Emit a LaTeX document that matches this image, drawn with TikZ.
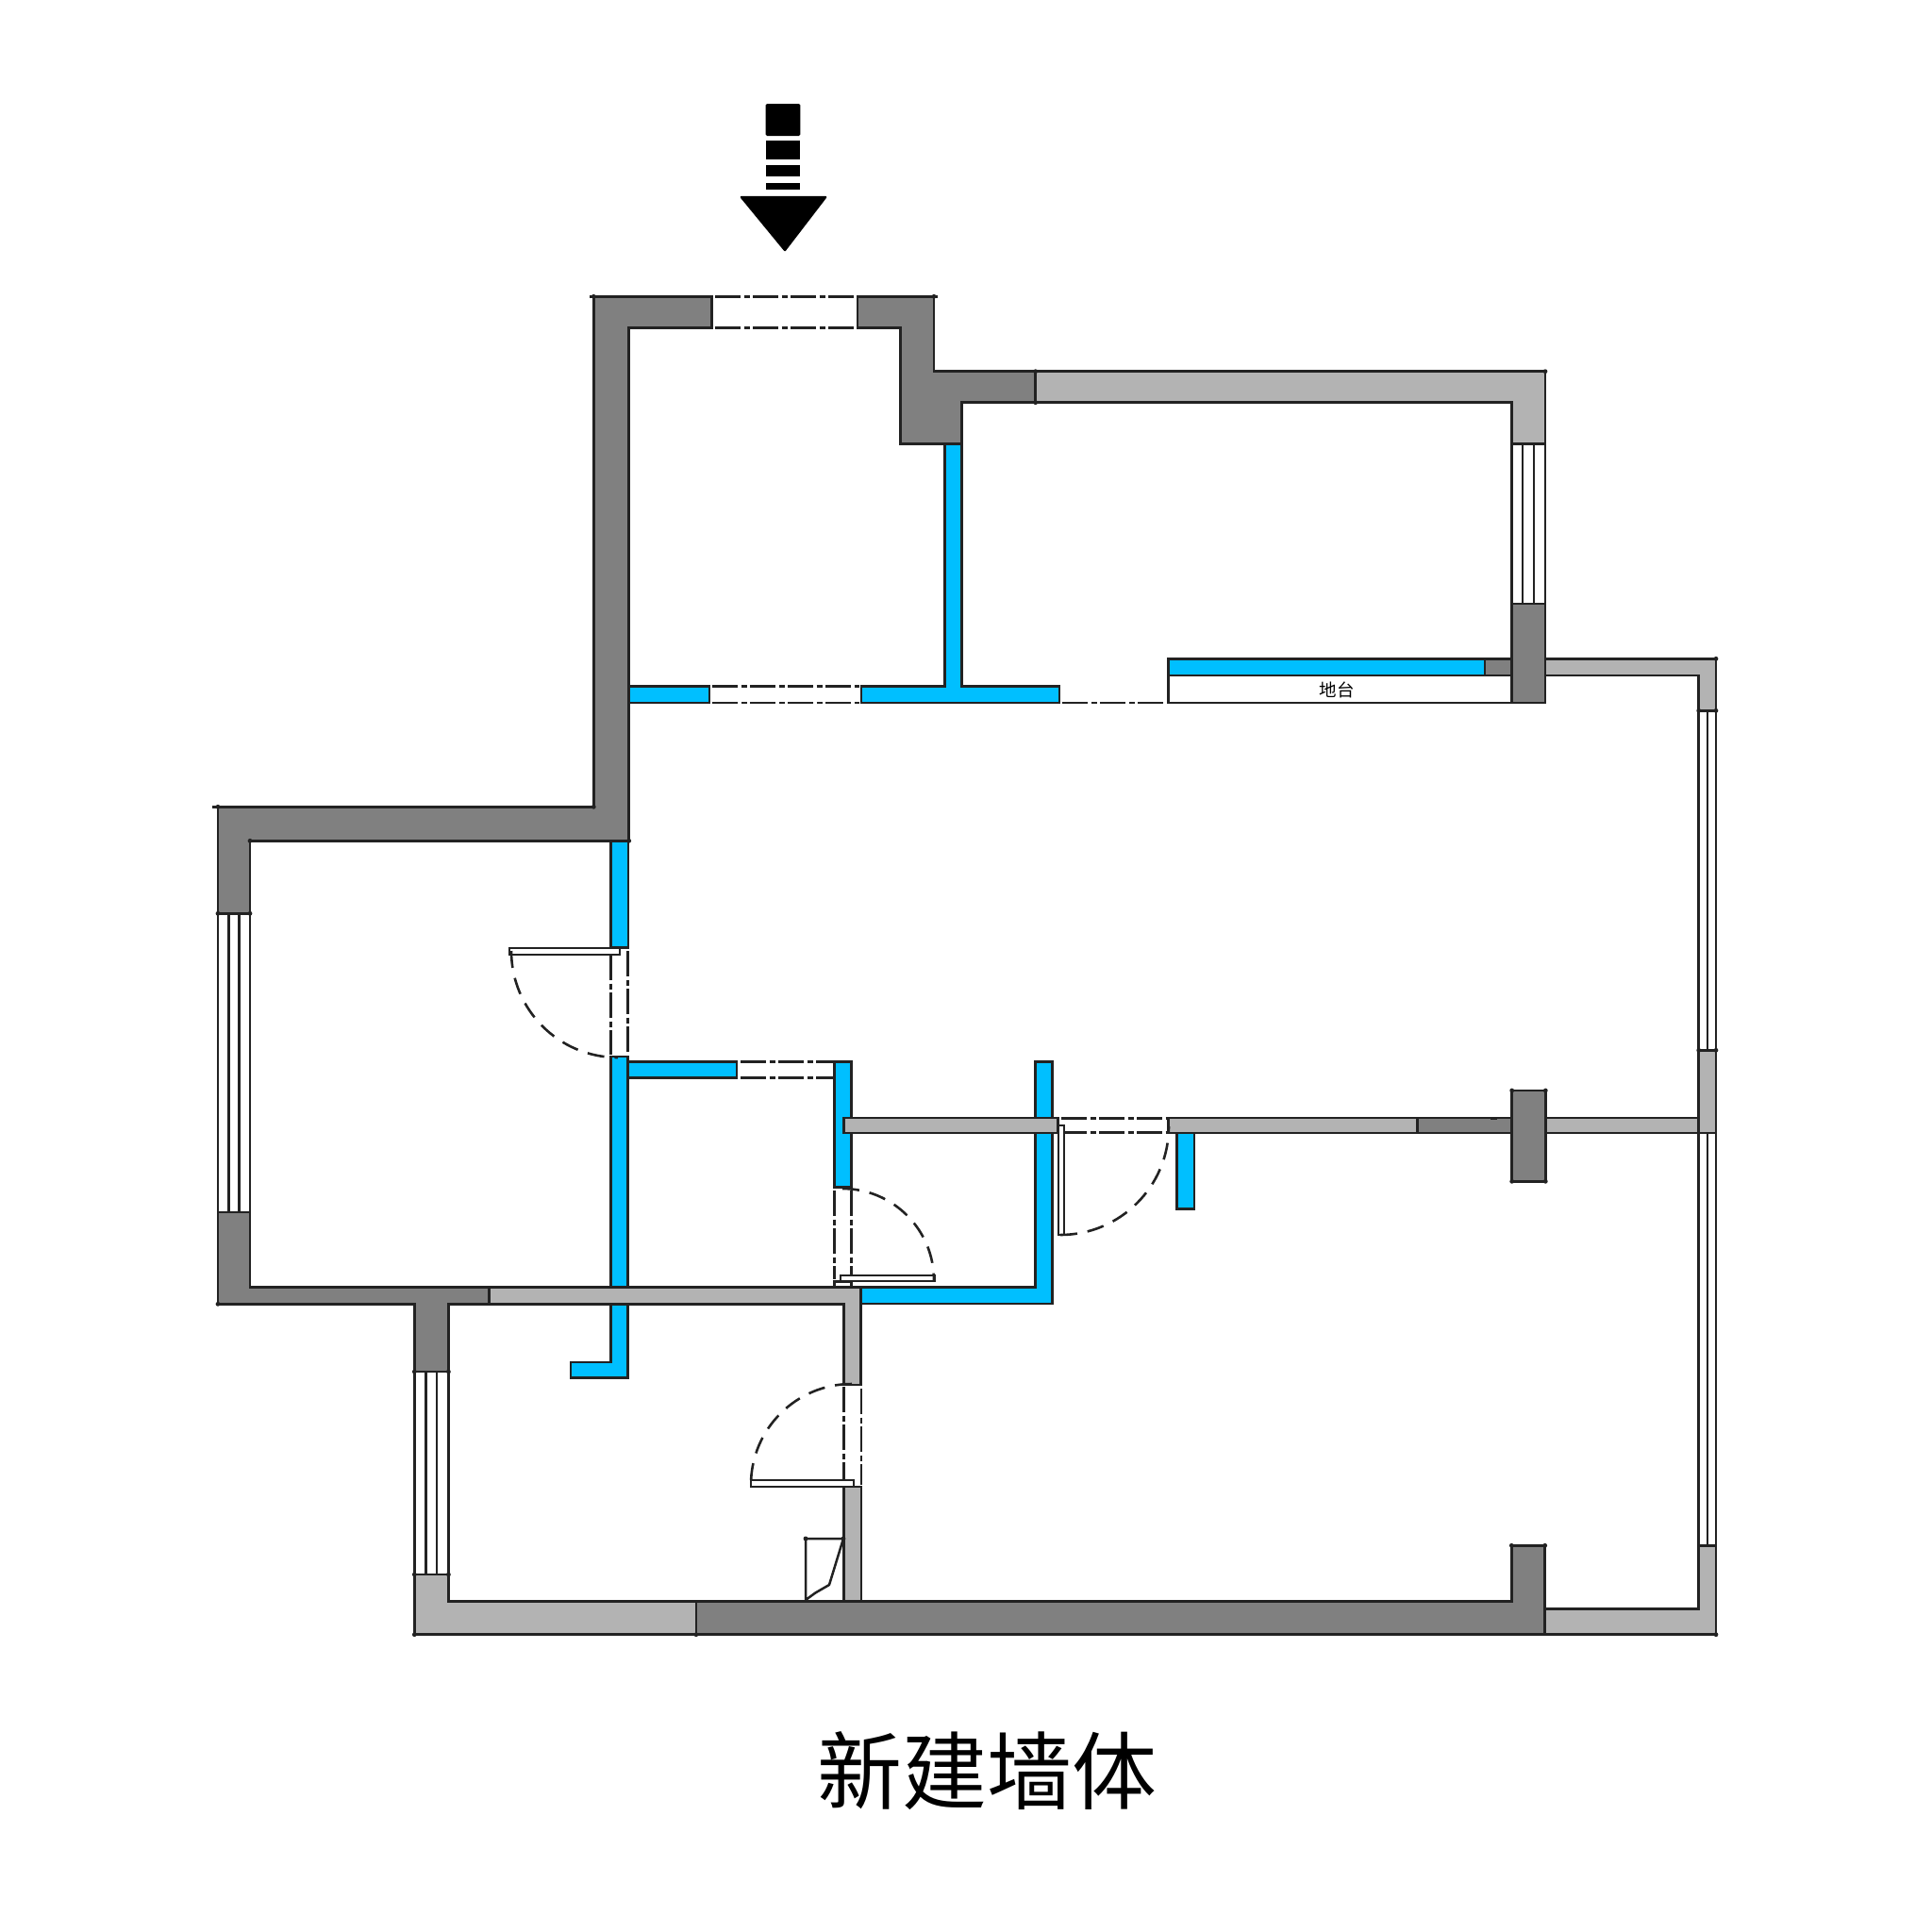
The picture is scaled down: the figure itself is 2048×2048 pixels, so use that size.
\documentclass[tikz,border=0pt]{standalone}
\usepackage{fontspec}
\newfontfamily\cjkfont{Noto Sans CJK SC}
\definecolor{ink}{HTML}{222222}
\definecolor{walldark}{HTML}{808080}
\definecolor{walllight}{HTML}{B3B3B3}
\definecolor{wallblue}{HTML}{00BFFF}
\tikzset{
  outline/.style={draw=ink,line width=2.6pt,line join=miter},
  darkwall/.style={outline,fill=walldark},
  lightwall/.style={outline,fill=walllight},
  bluewall/.style={outline,fill=wallblue},
  leaf/.style={outline,fill=white,line width=2.2pt},
  glass/.style={draw=ink,line width=2.5pt},
  opening/.style={draw=ink,line width=2.6pt,dash pattern=on 27pt off 3.5pt on 6pt off 3.5pt},
  swing/.style={draw=ink,line width=2.6pt,dash pattern=on 18pt off 11pt},
  stem/.style={fill=black,draw=none},
}
\begin{document}
\begin{tikzpicture}[x=1pt,y=-1pt]
\useasboundingbox (0,0) rectangle (2048,2048);
\fill[white] (0,0) rectangle (2048,2048);

% entrance arrow
\fill[stem,rounded corners=1.5pt] (811.7,110) rectangle (848.3,144);
\fill[stem] (811.7,149) rectangle (848.3,169.3);
\fill[stem] (811.7,175) rectangle (848.3,187.3);
\fill[stem] (811.7,194) rectangle (848.3,200.7);
\filldraw[black,line width=2.5pt,line join=round] (786,209) -- (875,209) -- (832,265) -- cycle;

% new walls
\path[bluewall] (913,727.4) -- (1001.7,727.4) -- (1001.7,470.7) -- (1019.3,470.7) -- (1019.3,727.4) -- (1123,727.4) -- (1123,745) -- (913,745) -- cycle;
\path[bluewall] (666.7,727.4) rectangle (752,745);
\path[bluewall] (1238.2,698.3) rectangle (1573.8,716);
\path[bluewall] (647.7,891.3) rectangle (666,1004.3);
\path[bluewall] (665.7,1125.7) rectangle (781,1142.7);
\path[bluewall] (647.7,1120) -- (665.7,1120) -- (665.7,1460.7) -- (605,1460.7) -- (605,1444) -- (647.7,1444) -- cycle;
\path[bluewall] (884.3,1125.7) rectangle (902.7,1258.3);
\path[bluewall] (1097.7,1125.3) -- (1115.7,1125.3) -- (1115.7,1382) -- (912.7,1382) -- (912.7,1364.3) -- (1097.7,1364.3) -- cycle;
\path[bluewall] (1247.3,1201) rectangle (1266,1281.3);

% platform
\draw[outline] (1238.2,716) -- (1238.2,745) -- (1602.4,745);
\node[font=\cjkfont,text=black,inner sep=0pt] (platform) at (1417,731) {\fontsize{18.5pt}{18.5pt}\selectfont 地台};

% existing walls, dark
\path[darkwall] (231,855.3) -- (629.3,855.3) -- (629.3,314.3) -- (754.3,314.3) -- (754.3,347.7) -- (666.7,347.7) -- (666.7,891.3) -- (265,891.3) -- (265,968.3) -- (231,968.3) -- cycle;
\path[darkwall] (909,314.3) -- (990,314.3) -- (990,393.7) -- (1097.7,393.7) -- (1097.7,426.7) -- (1019.3,426.7) -- (1019.3,470.7) -- (954.3,470.7) -- (954.3,347.7) -- (909,347.7) -- cycle;
\path[darkwall] (231,1285) -- (265,1285) -- (265,1364.3) -- (518.3,1364.3) -- (518.3,1382.3) -- (475.4,1382.3) -- (475.4,1454) -- (439.3,1454) -- (439.3,1382.3) -- (231,1382.3) -- cycle;
\path[darkwall] (737.9,1697.3) -- (1602.3,1697.3) -- (1602.3,1638.3) -- (1637.7,1638.3) -- (1637.7,1732.7) -- (737.9,1732.7) -- cycle;
\path[darkwall] (1573.8,698.3) rectangle (1602.4,716);
\path[darkwall] (1602.4,640) rectangle (1638,745);
\path[darkwall] (1502.3,1185) rectangle (1602.7,1201);
\path[darkwall] (1602.7,1156) rectangle (1638.3,1252.3);
\fill[ink] (1580,1183.5) rectangle (1587,1186.5);

% existing walls, light
\path[lightwall] (1097.7,393.7) -- (1638,393.7) -- (1638,470.7) -- (1602.4,470.7) -- (1602.4,426.7) -- (1097.7,426.7) -- cycle;
\path[lightwall] (1638,698.3) -- (1819,698.3) -- (1819,753.3) -- (1800.7,753.3) -- (1800.7,716) -- (1638,716) -- cycle;
\path[lightwall] (1800.7,1113.3) rectangle (1819,1201);
\path[lightwall] (1638.3,1185) rectangle (1800.7,1201);
\path[lightwall] (1238.3,1185) rectangle (1502.3,1201);
\path[lightwall] (894.3,1185) rectangle (1121.7,1201);
\path[lightwall] (518.3,1364.3) -- (912.5,1364.3) -- (912.5,1468) -- (894.3,1468) -- (894.3,1382.3) -- (518.3,1382.3) -- cycle;
\path[lightwall] (894.3,1576) rectangle (912.9,1697.3);
\path[lightwall] (439.3,1669) -- (475.4,1669) -- (475.4,1697.3) -- (737.9,1697.3) -- (737.9,1732.7) -- (439.3,1732.7) -- cycle;
\path[lightwall] (1800.7,1638.3) -- (1819,1638.3) -- (1819,1732.7) -- (1637.7,1732.7) -- (1637.7,1705.3) -- (1800.7,1705.3) -- cycle;

% windows
\foreach \wx in {1602.4,1614.2,1626.1,1638} {\draw[glass] (\wx,470.7) -- (\wx,640);}
\foreach \wx in {231,242.5,253.5,265} {\draw[glass] (\wx,968.3) -- (\wx,1285);}
\foreach \wx in {439.3,451.4,463.2,475.4} {\draw[glass] (\wx,1454) -- (\wx,1669);}
\foreach \wx in {1800.7,1809.8,1819} {
  \draw[glass] (\wx,753.3) -- (\wx,1113.3);
  \draw[glass] (\wx,1201) -- (\wx,1638.3);
}

% openings
\draw[opening] (758,314.3) -- (907,314.3);
\draw[opening] (758,347.7) -- (907,347.7);
\draw[opening] (755,727.4) -- (911,727.4);
\draw[opening] (755,745) -- (911,745);
\draw[opening] (1126,745) -- (1236,745);
\draw[opening] (647.7,1012) -- (647.7,1118);
\draw[opening] (665.7,1008) -- (665.7,1118);
\draw[opening] (785,1125.7) -- (884,1125.7);
\draw[opening] (785,1142.7) -- (884,1142.7);
\draw[opening] (1125,1185.7) -- (1237,1185.7);
\draw[opening] (1125,1200.7) -- (1237,1200.7);
\draw[opening] (884.3,1262) -- (884.3,1356);
\draw[opening] (902.7,1262) -- (902.7,1352);
\draw[opening] (894.3,1470) -- (894.3,1568);
\draw[opening] (912.9,1472) -- (912.9,1574);

% doors
\path[outline,fill=white] (884.3,1358.3) rectangle (902.7,1364.3);
\path[leaf] (540,1005) rectangle (656.7,1011.7);
\path[leaf] (891,1352.3) rectangle (991,1358.3);
\path[leaf] (1121.7,1193.3) rectangle (1127.7,1309.3);
\path[leaf] (796,1568.7) rectangle (904.6,1575.7);
\draw[swing] (542,1008) arc[start angle=180,end angle=90,radius=113];
\draw[swing] (1124,1309) arc[start angle=90,end angle=0,radius=115];
\draw[swing] (893,1260) arc[start angle=270,end angle=360,radius=97];
\draw[swing] (903,1467) arc[start angle=270,end angle=180,radius=107];

% fixture
\draw[glass,line join=round] (894,1631) -- (854,1631) -- (854,1696) -- (864.6,1688.3) -- (879,1680) -- cycle;

% small end ticks at wall corners
\foreach \tx/\ty in {629.3/314.3,990/314.3,231/855.3,629.3/855.3,666.7/891.3,265/891.3,1638/393.7,1097.7/393.7,1097.7/426.7,1819/698.3,
  231/968.3,265/968.3,231/1382.3,439.3/1732.7,737.9/1732.7,1819/1732.7,1637.7/1638.3,1602.3/1638.3,1602.7/1156,1638.3/1156,1602.7/1252.3,1638.3/1252.3,
  439.3/1669,475.4/1669,439.3/1454,475.4/1454,854/1631,894/1631,1800.7/1113.3,1819/1113.3,1800.7/753.3,1819/753.3}
  {\fill[ink] (\tx,\ty) circle[radius=2.4];}
\draw[ink,line width=2.6pt] (231,855.3) -- (225,855.3);
\draw[ink,line width=2.6pt] (629.3,314.3) -- (625,314.3);
\draw[ink,line width=2.6pt] (990,314.3) -- (994,314.3);

% caption
\node[font=\cjkfont,text=black,inner sep=0pt] (caption) at (1046,1877) {\fontsize{90pt}{90pt}\selectfont 新建墙体};
\end{tikzpicture}
\end{document}
